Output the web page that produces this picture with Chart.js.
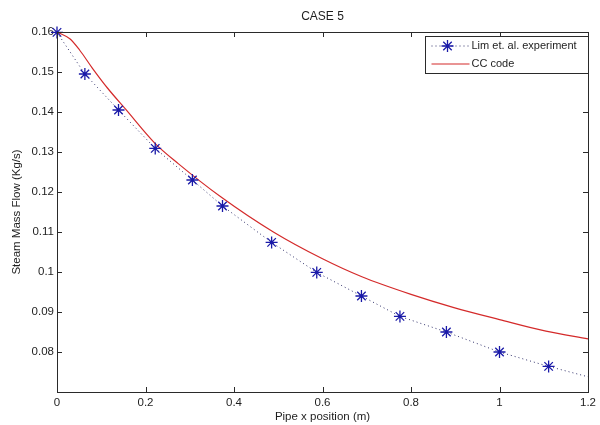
<!DOCTYPE html>
<html lang="en">
<head>
    <meta charset="UTF-8">
    <title>CASE 5 - Steam Mass Flow</title>
    <script src="https://cdn.jsdelivr.net/npm/chart.js"></script>
    <style>
        body { margin: 0; background: #fff; }
    </style>
</head>
<body>
    <canvas id="flowChart" width="600" height="425"></canvas>
    <script>
// Lim et. al. measurements (last entry just ends the dotted curve at the wall)
const expX = [0, 0.063, 0.139, 0.222, 0.306, 0.374, 0.485, 0.587, 0.688, 0.775, 0.880, 1.000, 1.111, 1.200];
const expY = [0.1599, 0.1495, 0.1405, 0.1309, 0.1230, 0.1165, 0.1074, 0.0999, 0.0940, 0.0889, 0.0850, 0.0800, 0.0764, 0.0738];

// CC code prediction
const ccX = [0, 0.029, 0.051, 0.081, 0.114, 0.155, 0.222, 0.274, 0.370, 0.489, 0.600, 0.689, 0.800, 0.897, 1.000, 1.105, 1.200];
const ccY = [0.1600, 0.1583, 0.1555, 0.1508, 0.1460, 0.1407, 0.1321, 0.1271, 0.1188, 0.1100, 0.1033, 0.0988, 0.0944, 0.0911, 0.0881, 0.0852, 0.0833];

const FONT = "'Liberation Sans', Arial, sans-serif";
const STAR = '#1a1aa8';
const DOTS = '#30306a';
const RED = '#d42a2a';

const expPoints = expX.map((x, i) => ({ x: x, y: expY[i] }));
const ccPoints = ccX.map((x, i) => ({ x: x, y: ccY[i] }));
const starRadius = expX.map((x, i) => i === expX.length - 1 ? 0 : 6);

function fmt(v) {
    return String(Number(v.toFixed(2)));
}

// box, inward ticks on all four sides, title and boxed legend
const matlabAxes = {
    id: 'matlabAxes',
    afterDraw(chart) {
        const ctx = chart.ctx;
        const a = chart.chartArea;
        const xs = chart.scales.x, ys = chart.scales.y;
        const tl = 5;
        ctx.save();
        ctx.strokeStyle = '#2a2a2a';
        ctx.lineWidth = 1;
        ctx.strokeRect(Math.round(a.left) + 0.5, Math.round(a.top) + 0.5,
            Math.round(a.right - a.left), Math.round(a.bottom - a.top));
        ctx.beginPath();
        xs.ticks.forEach(t => {
            const px = Math.round(xs.getPixelForValue(t.value)) + 0.5;
            ctx.moveTo(px, a.bottom); ctx.lineTo(px, a.bottom - tl);
            ctx.moveTo(px, a.top); ctx.lineTo(px, a.top + tl);
        });
        ys.ticks.forEach(t => {
            const py = Math.round(ys.getPixelForValue(t.value)) + 0.5;
            ctx.moveTo(a.left, py); ctx.lineTo(a.left + tl, py);
            ctx.moveTo(a.right, py); ctx.lineTo(a.right - tl, py);
        });
        ctx.stroke();

        // title
        ctx.fillStyle = '#1e1e1e';
        ctx.font = '12px ' + FONT;
        ctx.textAlign = 'center';
        ctx.textBaseline = 'middle';
        ctx.fillText('CASE 5', (a.left + a.right) / 2, 17);

        // legend
        const lw = 163, lh = 37;
        const lx = Math.round(a.right - lw) + 0.5, ly = Math.round(a.top + 4) + 0.5;
        ctx.fillStyle = '#fff';
        ctx.fillRect(lx, ly, lw, lh);
        ctx.strokeStyle = '#2a2a2a';
        ctx.strokeRect(lx, ly, lw, lh);
        const ds = chart.data.datasets;
        const row1 = ly + 9.5, row2 = ly + 27.5;
        ctx.lineWidth = 1;
        ctx.strokeStyle = DOTS;
        ctx.setLineDash([1, 3]);
        ctx.beginPath();
        ctx.moveTo(lx + 6, row1); ctx.lineTo(lx + 44, row1);
        ctx.stroke();
        ctx.setLineDash([]);
        ctx.strokeStyle = STAR;
        ctx.lineWidth = 1.3;
        const cx = lx + 22, r = 6;
        ctx.beginPath();
        ctx.moveTo(cx - r, row1); ctx.lineTo(cx + r, row1);
        ctx.moveTo(cx, row1 - r); ctx.lineTo(cx, row1 + r);
        const d = r * 0.707;
        ctx.moveTo(cx - d, row1 - d); ctx.lineTo(cx + d, row1 + d);
        ctx.moveTo(cx - d, row1 + d); ctx.lineTo(cx + d, row1 - d);
        ctx.stroke();
        ctx.strokeStyle = RED;
        ctx.lineWidth = 1.2;
        ctx.beginPath();
        ctx.moveTo(lx + 6, row2); ctx.lineTo(lx + 44, row2);
        ctx.stroke();
        ctx.fillStyle = '#1e1e1e';
        ctx.font = '11px ' + FONT;
        ctx.textAlign = 'left';
        ctx.fillText(ds[0].label, lx + 46, row1);
        ctx.fillText(ds[1].label, lx + 46, row2);
        ctx.restore();
    }
};

const flowChart = new Chart(document.getElementById('flowChart').getContext('2d'), {
    type: 'scatter',
    data: {
        datasets: [
            {
                label: 'Lim et. al. experiment',
                data: expPoints,
                showLine: true,
                borderColor: DOTS,
                borderWidth: 1,
                borderDash: [1, 3],
                pointStyle: 'star',
                pointRadius: starRadius,
                pointBorderColor: STAR,
                pointBorderWidth: 1.3,
                pointBackgroundColor: STAR,
                clip: false
            },
            {
                label: 'CC code',
                data: ccPoints,
                showLine: true,
                borderColor: RED,
                borderWidth: 1.2,
                pointRadius: 0,
                cubicInterpolationMode: 'monotone',
                clip: false
            }
        ]
    },
    options: {
        responsive: false,
        animation: false,
        layout: { padding: { top: 32, right: 4, left: 0, bottom: 0 } },
        plugins: {
            legend: { display: false },
            tooltip: { enabled: false }
        },
        scales: {
            x: {
                type: 'linear',
                min: 0,
                max: 1.2,
                grid: { display: false, drawTicks: false },
                border: { display: false },
                ticks: {
                    stepSize: 0.2,
                    padding: 4,
                    color: '#1e1e1e',
                    font: { family: FONT, size: 11.5 },
                    callback: v => fmt(v)
                },
                title: {
                    display: true,
                    text: 'Pipe x position (m)',
                    color: '#1e1e1e',
                    font: { family: FONT, size: 11.5 },
                    padding: { top: 0, bottom: 1 }
                },
                afterFit: s => { s.height = 33; }
            },
            y: {
                min: 0.07,
                max: 0.16,
                grid: { display: false, drawTicks: false },
                border: { display: false },
                ticks: {
                    stepSize: 0.01,
                    padding: 3,
                    color: '#1e1e1e',
                    font: { family: FONT, size: 11.5 },
                    callback: v => v < 0.075 ? '' : fmt(v)
                },
                title: {
                    display: true,
                    text: 'Steam Mass Flow (Kg/s)',
                    color: '#1e1e1e',
                    font: { family: FONT, size: 11.5 },
                    padding: { top: 10, bottom: 0 }
                },
                afterFit: s => { s.width = 57; }
            }
        }
    },
    plugins: [matlabAxes]
});
    </script>
</body>
</html>
